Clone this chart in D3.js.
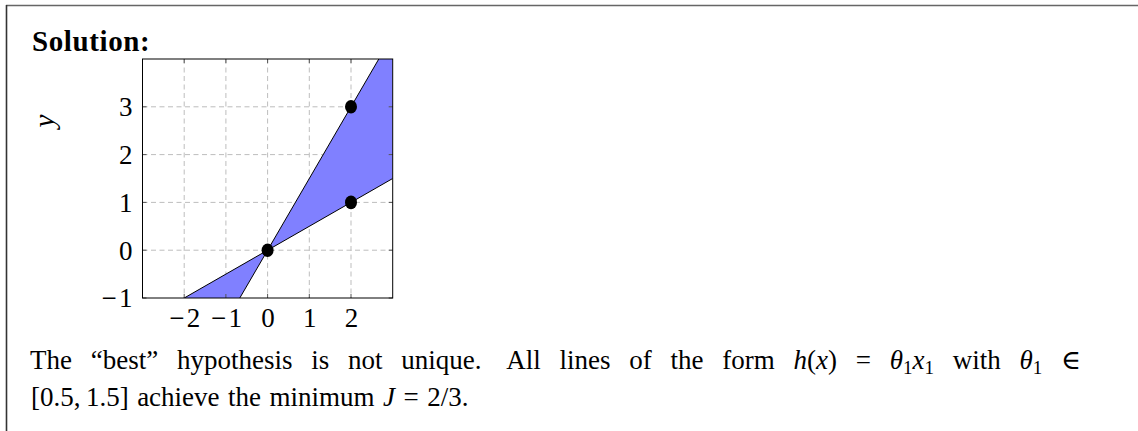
<!DOCTYPE html>
<html>
<head>
<meta charset="utf-8">
<script src="https://cdn.jsdelivr.net/npm/d3@7"></script>
<style>
  html, body { margin: 0; padding: 0; background: #fff; }
  svg { display: block; }
  text { font-family: "Liberation Serif", "DejaVu Serif", serif; fill: #000; }
</style>
</head>
<body>
<svg id="fig" width="1138" height="431"></svg>
<script>
// Data: hypothesis lines h(x) = theta1 * x bounding the optimal set, and training points
const thetaBounds = [0.5, 1.5];
const pointX = [0, 2, 2];
const pointY = [0, 1, 3];
const xDomain = [-3, 3];
const yDomain = [-1, 4];
const xTicks = [-2, -1, 0, 1, 2];
const yTicks = [-1, 0, 1, 2, 3];

const svg = d3.select("#fig");

// Frame around the solution block (top and left edges visible)
svg.append("line").attr("x1", 6).attr("x2", 1138).attr("y1", 5.5).attr("y2", 5.5)
  .attr("stroke", "#666").attr("stroke-width", 1.6);
svg.append("line").attr("x1", 6.5).attr("x2", 6.5).attr("y1", 5).attr("y2", 431)
  .attr("stroke", "#333").attr("stroke-width", 1.6);

// Heading
svg.append("text").attr("x", 32).attr("y", 51)
  .style("font-weight", "bold").style("font-size", "29px").style("letter-spacing", "0.6px")
  .text("Solution:");

// Plot geometry
const pL = 142.5, pR = 392.7, pT = 59, pB = 298;
const x = d3.scaleLinear().domain(xDomain).range([pL, pR]);
const y = d3.scaleLinear().domain(yDomain).range([pB, pT]);

svg.append("defs").append("clipPath").attr("id", "plotClip")
  .append("rect").attr("x", pL).attr("y", pT)
  .attr("width", pR - pL).attr("height", pB - pT);

// Grid
const grid = svg.append("g");
grid.selectAll("line.gx").data(xTicks).join("line")
  .attr("x1", d => x(d)).attr("x2", d => x(d))
  .attr("y1", pT).attr("y2", pB)
  .attr("stroke", "#bdbdbd").attr("stroke-width", 1).attr("stroke-dasharray", "5,3.5");
grid.selectAll("line.gy").data(yTicks.filter(d => d !== yDomain[0])).join("line")
  .attr("x1", pL).attr("x2", pR)
  .attr("y1", d => y(d)).attr("y2", d => y(d))
  .attr("stroke", "#bdbdbd").attr("stroke-width", 1).attr("stroke-dasharray", "5,3.5");

// Shaded region between the two bounding lines
const xs = [xDomain[0], 0, xDomain[1]];
const area = d3.area()
  .x(d => x(d))
  .y0(d => y(thetaBounds[0] * d))
  .y1(d => y(thetaBounds[1] * d));
const plot = svg.append("g").attr("clip-path", "url(#plotClip)");
plot.append("path").datum(xs).attr("d", area).attr("fill", "#8080ff");

// Bounding lines
const line = d3.line().x(d => x(d[0])).y(d => y(d[1]));
thetaBounds.forEach(t => {
  plot.append("path")
    .datum(xDomain.map(v => [v, t * v]))
    .attr("d", line).attr("fill", "none")
    .attr("stroke", "#000").attr("stroke-width", 1);
});

// Axis labels and ticks
const fmt = d => (d < 0 ? "\u2212\u200A" + Math.abs(d) : String(d));
const axX = d3.axisBottom(x).tickValues(xTicks).tickSize(0).tickFormat(fmt);
const axY = d3.axisLeft(y).tickValues(yTicks).tickSize(0).tickFormat(fmt);
const gx = svg.append("g").attr("transform", `translate(0,${pB})`).call(axX);
const gy = svg.append("g").attr("transform", `translate(${pL},0)`).call(axY);
[gx, gy].forEach(g => {
  g.select(".domain").remove();
  g.selectAll("text").style("font-size", "27px").style("font-family", '"Liberation Serif", serif').attr("fill", "#000");
});
gx.selectAll("text").attr("y", 29).attr("dy", 0);
gy.selectAll("text").attr("x", -10).attr("dy", "0.33em");

const ticks = svg.append("g").attr("stroke", "#555").attr("stroke-width", 1);
xTicks.forEach(v => {
  ticks.append("line").attr("x1", x(v)).attr("x2", x(v)).attr("y1", pB).attr("y2", pB - 4);
  ticks.append("line").attr("x1", x(v)).attr("x2", x(v)).attr("y1", pT).attr("y2", pT + 4);
});
yTicks.forEach(v => {
  ticks.append("line").attr("x1", pL).attr("x2", pL + 4).attr("y1", y(v)).attr("y2", y(v));
  ticks.append("line").attr("x1", pR).attr("x2", pR - 4).attr("y1", y(v)).attr("y2", y(v));
});

svg.append("rect").attr("x", pL).attr("y", pT)
  .attr("width", pR - pL).attr("height", pB - pT)
  .attr("fill", "none").attr("stroke", "#000").attr("stroke-width", 1);

// Data points
svg.append("g").selectAll("ellipse").data(pointX.map((v, i) => [v, pointY[i]])).join("ellipse")
  .attr("cx", d => x(d[0])).attr("cy", d => y(d[1]))
  .attr("rx", 6).attr("ry", 6.8).attr("fill", "#000");

// y-axis label
svg.append("text")
  .attr("transform", "translate(54,121) rotate(-90)")
  .attr("text-anchor", "middle")
  .style("font-style", "italic").style("font-size", "29px")
  .text("y");

// Paragraph text: words as arrays of [string, style] pieces
const it = "italic", rm = "normal", sub = "sub";
const line1 = [
  [["The", rm]], [["\u201Cbest\u201D", rm]], [["hypothesis", rm]], [["is", rm]], [["not", rm]],
  [["unique.", rm]], [["All", rm]], [["lines", rm]], [["of", rm]], [["the", rm]], [["form", rm]],
  [["h", it], ["(", rm], ["x", it], [")", rm]], [["=", rm]],
  [["\u03B8", it], ["1", sub], ["x", it], ["1", sub]], [["with", rm]],
  [["\u03B8", it], ["1", sub]], [["\u2208", rm]]
];
const line2 = [
  [["[0.5,\u20091.5]", rm]], [["achieve", rm]], [["the", rm]], [["minimum", rm]],
  [["J", it]], [["=", rm]], [["2/3.", rm]]
];

function drawWord(parts, xPos, yPos) {
  const t = svg.append("text").attr("x", xPos).attr("y", yPos).style("font-size", "27px");
  let shift = 0;
  parts.forEach(([s, st]) => {
    const ts = t.append("tspan").text(s);
    if (st === it) ts.style("font-style", "italic");
    if (st === sub) { ts.style("font-size", "19px").attr("dy", 5 - shift); shift = 5; }
    else { ts.attr("dy", -shift); shift = 0; }
  });
  return t;
}

// Lay out one line of words; justified lines spread the gaps to fill [x0, x1]
function setLine(words, yPos, x0, x1, justify, extraAfter) {
  const nodes = words.map(w => drawWord(w, 0, yPos));
  const widths = nodes.map(n => n.node().getComputedTextLength());
  const total = d3.sum(widths);
  const gaps = words.length - 1;
  const gap = justify ? (x1 - x0 - total - (extraAfter ? 6 : 0)) / gaps : 8.5;
  let cx = x0;
  nodes.forEach((n, i) => {
    n.attr("x", cx);
    cx += widths[i] + gap + (extraAfter && i === extraAfter ? 6 : 0);
  });
}

setLine(line1, 369, 30, 1081, true, 5);
setLine(line2, 406, 31, 0, false, 0);
</script>
</body>
</html>
